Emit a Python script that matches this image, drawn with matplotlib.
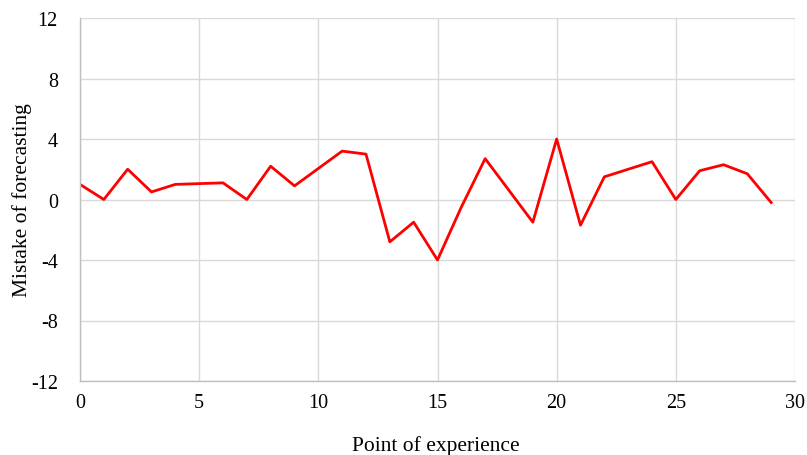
import matplotlib
matplotlib.use("Agg")
import matplotlib.pyplot as plt

points = list(range(30))
mistake = [1.0, 0.0, 2.0, 0.5, 1.0, 1.05, 1.1, 0.0, 2.2, 0.9,
           2.05, 3.2, 3.0, -2.8, -1.5, -4.0, -0.5, 2.7, 0.6, -1.5,
           4.0, -1.7, 1.5, 2.0, 2.5, 0.0, 1.9, 2.3, 1.7, -0.2]
xticks = [0, 5, 10, 15, 20, 25, 30]
yticks = [-12, -8, -4, 0, 4, 8, 12]

plt.rcParams['font.family'] = ['Liberation Serif', 'DejaVu Serif']
plt.rcParams['axes.unicode_minus'] = False

fig = plt.figure(figsize=(8.07, 4.56), dpi=100)
ax = fig.add_axes([80 / 807, 1 - 382 / 456, 715 / 807, 363 / 456])

ax.plot(points, mistake, color='#ff0000', linewidth=2)

ax.set_xlim(0, 30)
ax.set_ylim(-12, 12)
ax.set_xticks(xticks)
ax.set_yticks(yticks)
ax.tick_params(length=0, labelsize=14.5)
ax.tick_params(axis='y', pad=16)
ax.tick_params(axis='x', pad=9)
ax.grid(True, color='#d9d9d9', linewidth=1)
ax.set_axisbelow(True)
for side in ['top', 'right']:
    ax.spines[side].set_visible(False)
for side in ['left', 'bottom']:
    ax.spines[side].set_color('#bfbfbf')
    ax.spines[side].set_linewidth(1)

ax.set_xlabel('Point of experience', fontsize=15.5, va='center')
ax.set_ylabel('Mistake of forecasting', fontsize=15.5, va='center')
ax.xaxis.set_label_coords(0.498, -0.176)
ax.yaxis.set_label_coords(-0.081, 0.5)

fig.savefig('out.png', dpi=100)
